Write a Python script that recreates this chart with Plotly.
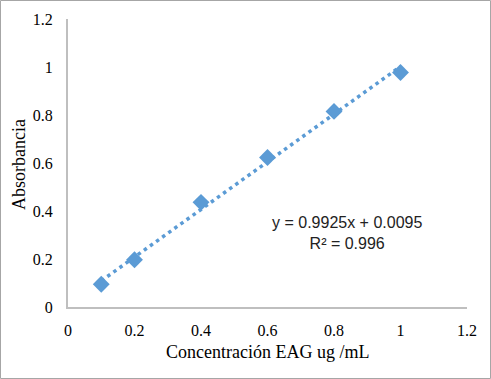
import numpy as np
import plotly.graph_objects as go

conc = [0.1, 0.2, 0.4, 0.6, 0.8, 1.0]
absorb = [0.095, 0.197, 0.436, 0.623, 0.815, 0.977]
slope = 0.9925
intercept = 0.0095
r2 = 0.996
x_ticks = [0, 0.2, 0.4, 0.6, 0.8, 1, 1.2]
y_ticks = [0, 0.2, 0.4, 0.6, 0.8, 1, 1.2]

W, H = 491, 379
L, R, T, B = 68, 24, 19, 72
pw, ph = W - L - R, H - T - B

trend_x = [min(conc), max(conc)]
trend_y = [slope * v + intercept for v in trend_x]

serif = "Liberation Serif, Times New Roman, serif"

fig = go.Figure()
fig.add_trace(go.Scatter(x=trend_x, y=trend_y, mode="lines",
                         line=dict(color="#5B9BD5", width=3.5, dash="3.5px,4px"),
                         showlegend=False, hoverinfo="skip"))
fig.add_trace(go.Scatter(x=conc, y=absorb, mode="markers",
                         marker=dict(symbol="diamond", size=13, color="#5B9BD5"),
                         showlegend=False))

fig.add_annotation(x=0.839, y=0.308, xref="x", yref="y",
                   text=f"y = {slope}x + {intercept}<br>R² = {r2}",
                   showarrow=False, align="center",
                   font=dict(family="Liberation Sans, Arial", size=16, color="#222"))

# axis titles
fig.add_annotation(x=(267.5 - L) / pw, y=-(352 - (T + ph)) / ph, xref="paper", yref="paper",
                   text="Concentración EAG ug /mL", showarrow=False,
                   xanchor="center", yanchor="middle",
                   font=dict(family=serif, size=18, color="#000"))
fig.add_annotation(x=(19 - L) / pw, y=(T + ph - 165) / ph, xref="paper", yref="paper",
                   text="Absorbancia", showarrow=False, textangle=-90,
                   xanchor="center", yanchor="middle",
                   font=dict(family=serif, size=18, color="#000"))

fig.add_shape(type="rect", xref="paper", yref="paper",
              x0=(-L + 0.5) / pw, x1=1 + (R - 0.5) / pw,
              y0=(-B + 0.5) / ph, y1=1 + (T - 0.5) / ph,
              line=dict(color="#A6A6A6", width=1))

axis_font = dict(family=serif, size=16, color="#000")
fig.update_xaxes(range=[0, 1.2], tickvals=x_ticks, ticktext=[str(v) for v in x_ticks],
                 showgrid=False, zeroline=False, showline=True, linecolor="#BFBFBF",
                 linewidth=2, ticks="", tickfont=axis_font, ticklabelstandoff=8,
                 automargin=False)
fig.update_yaxes(range=[0, 1.2], tickvals=y_ticks, ticktext=[str(v) for v in y_ticks],
                 showgrid=False, zeroline=False, showline=True, linecolor="#BFBFBF",
                 linewidth=2, ticks="", tickfont=axis_font, ticklabelstandoff=10,
                 automargin=False)
fig.update_layout(width=W, height=H, margin=dict(l=L, r=R, t=T, b=B),
                  paper_bgcolor="white", plot_bgcolor="white")
fig.write_html("out.html", config={"displayModeBar": False},
               post_script="document.body.style.margin='0';document.body.style.overflow='hidden';")
